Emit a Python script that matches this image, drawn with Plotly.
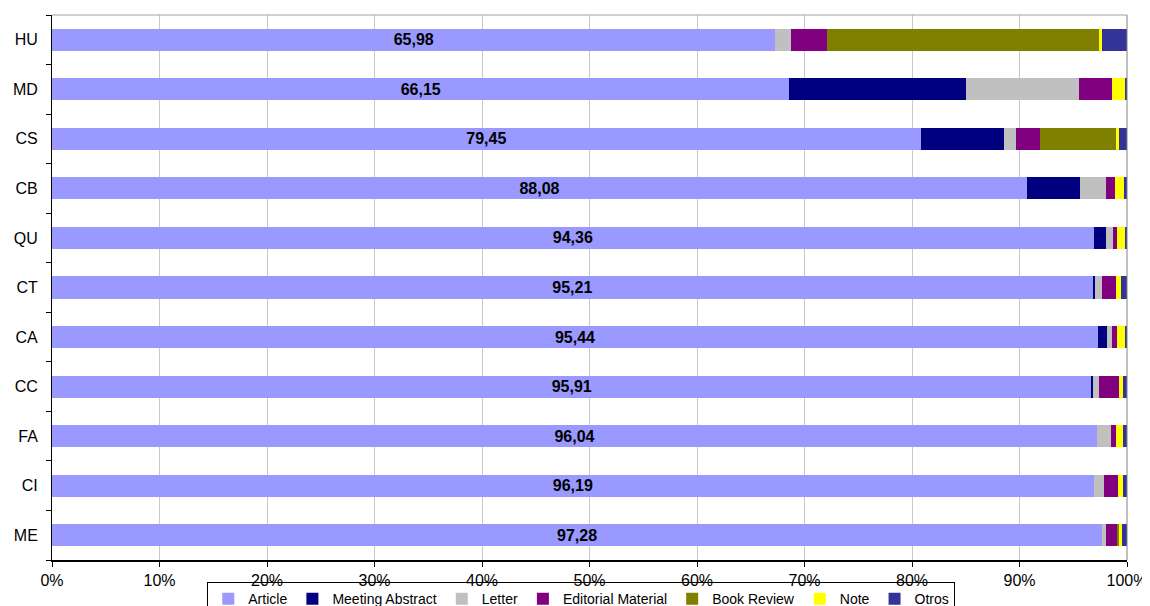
import plotly.graph_objects as go

categories = ["HU", "MD", "CS", "CB", "QU", "CT", "CA", "CC", "FA", "CI", "ME"]

article = [67.3, 68.6, 80.8, 90.7, 96.9, 96.8, 97.3, 96.7, 97.2, 96.9, 97.7]
meeting_abstract = [0.0, 16.4, 7.8, 4.9, 1.1, 0.2, 0.8, 0.15, 0.0, 0.0, 0.0]
letter = [1.4, 10.5, 1.1, 2.4, 0.7, 0.7, 0.5, 0.55, 1.3, 1.0, 0.35]
editorial = [3.4, 3.1, 2.2, 0.9, 0.4, 1.3, 0.5, 1.9, 0.5, 1.25, 1.05]
book_review = [25.3, 0.0, 7.1, 0.0, 0.0, 0.0, 0.0, 0.0, 0.0, 0.0, 0.2]
note = [0.3, 1.2, 0.3, 0.8, 0.7, 0.4, 0.7, 0.3, 0.6, 0.45, 0.2]
otros = [2.3, 0.2, 0.7, 0.3, 0.2, 0.6, 0.2, 0.45, 0.4, 0.4, 0.5]

article_labels = [65.98, 66.15, 79.45, 88.08, 94.36, 95.21, 95.44, 95.91, 96.04, 96.19, 97.28]

x_ticks = [0, 10, 20, 30, 40, 50, 60, 70, 80, 90, 100]
x_tick_text = [f"{v}%" for v in x_ticks]

series = [
    ("Article", article, "#9999FF"),
    ("Meeting Abstract", meeting_abstract, "#000080"),
    ("Letter", letter, "#C0C0C0"),
    ("Editorial Material", editorial, "#800080"),
    ("Book Review", book_review, "#808000"),
    ("Note", note, "#FFFF00"),
    ("Otros", otros, "#333399"),
]

FONT = "Liberation Sans, Arial, sans-serif"

fig = go.Figure()
for name, vals, color in series:
    kw = {}
    if name == "Article":
        kw = dict(
            text=[f"{v:.2f}".replace(".", ",") for v in article_labels],
            textposition="inside",
            insidetextanchor="middle",
            textfont=dict(family=FONT, size=16, color="black", weight="bold"),
            constraintext="none",
        )
    fig.add_trace(go.Bar(
        y=categories, x=vals, name=name, orientation="h",
        marker=dict(color=color, line=dict(width=0)),
        hoverinfo="x+y+name",
        **kw,
    ))

# the page body adds an 8px margin, so the figure is 8px smaller and shifted
fig.update_layout(
    barmode="stack",
    bargap=0.555,
    width=1142, height=598,
    margin=dict(l=44, r=23, t=7, b=46, autoexpand=False),
    paper_bgcolor="white",
    plot_bgcolor="white",
    font=dict(family=FONT, size=14, color="black"),
    showlegend=True,
    legend=dict(
        orientation="h",
        xref="container", yref="container",
        x=0.502, xanchor="center",
        y=0.040, yanchor="top",
        bgcolor="rgba(255,255,255,0)",
        bordercolor="black", borderwidth=1,
        font=dict(family=FONT, size=14, color="black"),
        itemwidth=30,
        tracegroupgap=0,
        traceorder="normal",
    ),
    xaxis=dict(
        range=[0, 100],
        tickvals=x_ticks, ticktext=x_tick_text,
        showgrid=True, gridcolor="#C8C8C8", gridwidth=1,
        showline=True, linecolor="black", linewidth=2,
        ticks="outside", ticklen=5, tickcolor="black", tickwidth=1,
        tickfont=dict(family=FONT, size=16, color="black"),
        zeroline=False, fixedrange=True, automargin=False,
    ),
    yaxis=dict(
        categoryorder="array", categoryarray=categories[::-1],
        showline=True, linecolor="black", linewidth=1,
        ticks="outside", tickson="boundaries", ticklen=5, tickcolor="black",
        tickfont=dict(family=FONT, size=16, color="black"),
        ticklabelstandoff=10,
        showgrid=False, zeroline=False, fixedrange=True, automargin=False,
    ),
    shapes=[
        dict(type="line", xref="paper", yref="paper", x0=0, x1=1, y0=1, y1=1,
             line=dict(color="#A0A0A0", width=1)),
        dict(type="line", xref="paper", yref="paper", x0=1, x1=1, y0=0, y1=1,
             line=dict(color="#808080", width=1)),
    ],
)

fig.write_html("out.html")
